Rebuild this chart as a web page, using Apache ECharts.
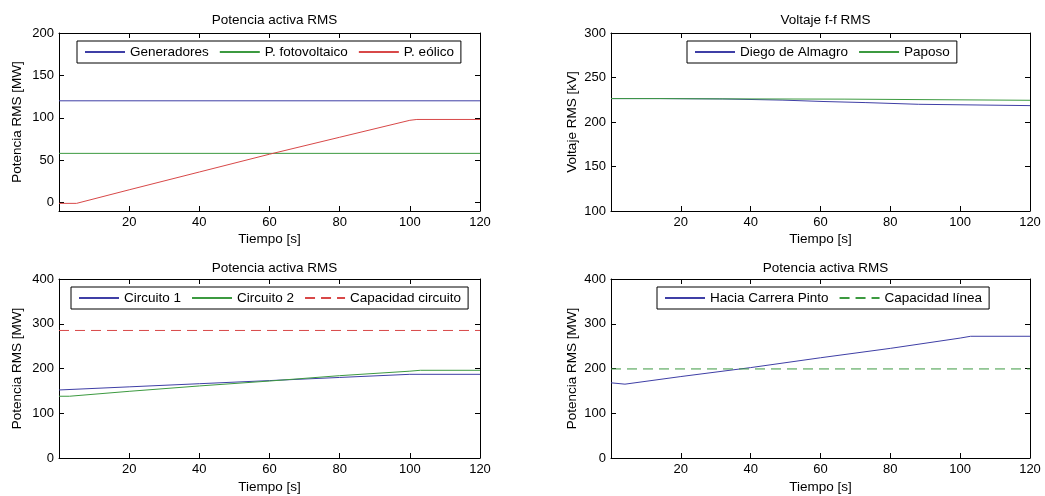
<!DOCTYPE html>
<html>
<head>
<meta charset="utf-8">
<title>Potencia activa RMS</title>
<script src="https://cdn.jsdelivr.net/npm/echarts@6/dist/echarts.min.js"></script>
<style>
  html, body { margin: 0; padding: 0; background: #fff; }
  #chart { width: 1045px; height: 496px; }
</style>
</head>
<body>
<div id="chart"></div>
<script>
// ticks del eje de tiempo
const tiempoTicks = [20, 40, 60, 80, 100, 120]

// Potencia activa RMS (generacion)
const tGen = [0, 120]
const pGen = [120, 120]
const tFoto = [0, 120]
const pFoto = [58, 58]
const tEolico = [0, 5, 20, 40, 60, 80, 100, 102, 120]
const pEolico = [-1, -1, 15, 36, 57, 77, 97, 98, 98]
const ticksGen = [0, 50, 100, 150, 200]

// Voltaje f-f RMS
const tDiego = [0, 14, 14, 32, 32, 49, 49, 61, 61, 73, 73, 88, 88, 120]
const vDiego = [226.3, 226.3, 225.9, 225.9, 224.6, 224.6, 223, 223, 221.8, 221.8, 219.9, 219.9, 218.4, 218.4]
const tPaposo = [0, 14, 14, 31, 31, 67, 67, 120]
const vPaposo = [226.3, 226.3, 226, 226, 225.7, 225.7, 224.4, 224.4]
const ticksVolt = [100, 150, 200, 250, 300]

// Potencia activa RMS (circuitos)
const tC1 = [0, 20, 40, 60, 80, 100, 120]
const pC1 = [152, 159, 166, 173, 180, 187, 187]
const tC2 = [0, 3, 20, 40, 60, 80, 100, 103, 120]
const pC2 = [138, 138, 149, 161, 172, 184, 194, 196, 196]
const tCapC = [0, 120]
const pCapC = [285, 285]

// Potencia activa RMS (hacia Carrera Pinto)
const tCP = [0, 4, 20, 40, 60, 80, 100, 103, 120]
const pCP = [168, 165, 182, 202, 224, 245, 268, 272, 272]
const tCapL = [0, 120]
const pCapL = [199, 199]
const ticksPot = [0, 100, 200, 300, 400]

const AZUL = '#3f3fa6'
const VERDE = '#3c9a40'
const ROJO = '#d84848'
const FONT = '"Liberation Sans", Arial, sans-serif'

function zip (t, v) {
  return t.map(function (x, i) { return [x, v[i]] })
}

// cada panel: grid, ejes, titulo, leyenda
const paneles = [
  { left: 59, top: 33, width: 421, height: 178, yMin: -10, yMax: 200, yTicks: ticksGen,
    title: 'Potencia activa RMS', yName: 'Potencia RMS [MW]', yGap: 35, xGap: 21, titleTop: 8,
    legendLeft: 77, legendTop: 41,
    series: [
      { name: 'Generadores', t: tGen, v: pGen, color: AZUL },
      { name: 'P. fotovoltaico', t: tFoto, v: pFoto, color: VERDE },
      { name: 'P. eólico', t: tEolico, v: pEolico, color: ROJO }
    ] },
  { left: 611, top: 33, width: 419, height: 178, yMin: 100, yMax: 300, yTicks: ticksVolt,
    title: 'Voltaje f-f RMS', yName: 'Voltaje RMS [kV]', yGap: 32, xGap: 21, titleTop: 8,
    legendLeft: 687, legendTop: 41,
    series: [
      { name: 'Diego de Almagro', t: tDiego, v: vDiego, color: AZUL },
      { name: 'Paposo', t: tPaposo, v: vPaposo, color: VERDE }
    ] },
  { left: 59, top: 279, width: 421, height: 179, yMin: 0, yMax: 400, yTicks: ticksPot,
    title: 'Potencia activa RMS', yName: 'Potencia RMS [MW]', yGap: 35, xGap: 22, titleTop: 256,
    legendLeft: 71, legendTop: 287,
    series: [
      { name: 'Circuito 1', t: tC1, v: pC1, color: AZUL },
      { name: 'Circuito 2', t: tC2, v: pC2, color: VERDE },
      { name: 'Capacidad circuito', t: tCapC, v: pCapC, color: ROJO, dash: true }
    ] },
  { left: 611, top: 279, width: 419, height: 179, yMin: 0, yMax: 400, yTicks: ticksPot,
    title: 'Potencia activa RMS', yName: 'Potencia RMS [MW]', yGap: 32, xGap: 22, titleTop: 256,
    legendLeft: 657, legendTop: 287,
    series: [
      { name: 'Hacia Carrera Pinto', t: tCP, v: pCP, color: AZUL },
      { name: 'Capacidad línea', t: tCapL, v: pCapL, color: VERDE, dash: true }
    ] }
]

const grid = []
const xAxis = []
const yAxis = []
const title = []
const legend = []
const series = []

const axisLine = { show: true, onZero: false, lineStyle: { color: '#000', width: 1 } }
const tickStyle = { color: '#000', width: 1 }

paneles.forEach(function (p, i) {
  grid.push({ left: p.left, top: p.top, width: p.width, height: p.height })
  // eje inferior con etiquetas
  xAxis.push({
    gridIndex: i, type: 'value', position: 'bottom', min: 0, max: 120,
    name: 'Tiempo [s]', nameLocation: 'middle', nameGap: p.xGap,
    nameTextStyle: { fontFamily: FONT, fontSize: 13.5, color: '#000' },
    axisLine: axisLine,
    axisTick: { inside: true, length: 5, lineStyle: tickStyle, customValues: tiempoTicks },
    axisLabel: { margin: 5, fontFamily: FONT, fontSize: 13, color: '#000', customValues: tiempoTicks },
    splitLine: { show: false }
  })
  // eje superior (solo ticks)
  xAxis.push({
    gridIndex: i, type: 'value', position: 'top', min: 0, max: 120,
    axisLine: axisLine,
    axisTick: { inside: true, length: 5, lineStyle: tickStyle, customValues: tiempoTicks },
    axisLabel: { show: false },
    splitLine: { show: false }
  })
  yAxis.push({
    gridIndex: i, type: 'value', position: 'left', min: p.yMin, max: p.yMax,
    name: p.yName, nameLocation: 'middle', nameGap: p.yGap,
    nameTextStyle: { fontFamily: FONT, fontSize: 13.5, color: '#000' },
    axisLine: axisLine,
    axisTick: { inside: true, length: 5, lineStyle: tickStyle, customValues: p.yTicks },
    axisLabel: { margin: 5, fontFamily: FONT, fontSize: 13, color: '#000', customValues: p.yTicks },
    splitLine: { show: false }
  })
  yAxis.push({
    gridIndex: i, type: 'value', position: 'right', min: p.yMin, max: p.yMax,
    axisLine: axisLine,
    axisTick: { inside: true, length: 5, lineStyle: tickStyle, customValues: p.yTicks },
    axisLabel: { show: false },
    splitLine: { show: false }
  })
  title.push({
    text: p.title,
    left: p.left + p.width / 2,
    top: p.titleTop,
    textAlign: 'center',
    textStyle: { fontFamily: FONT, fontSize: 13.5, fontWeight: 'normal', color: '#000' }
  })
  legend.push({
    data: p.series.map(function (s) { return s.name }),
    left: p.legendLeft,
    top: p.legendTop,
    orient: 'horizontal',
    selectedMode: false,
    backgroundColor: '#fff',
    borderColor: '#000',
    borderWidth: 1,
    borderRadius: 0,
    padding: [4, 7, 4, 7],
    itemGap: 10,
    itemWidth: 40,
    itemHeight: 14,
    // sin simbolo en la muestra, solo la linea
    itemStyle: { color: 'rgba(0,0,0,0)', borderColor: 'rgba(0,0,0,0)', borderWidth: 0, opacity: 0 },
    textStyle: { fontFamily: FONT, fontSize: 13.5, color: '#000' }
  })
  p.series.forEach(function (s) {
    series.push({
      name: s.name,
      type: 'line',
      xAxisIndex: 2 * i,
      yAxisIndex: 2 * i,
      symbol: 'none',
      data: zip(s.t, s.v),
      itemStyle: { color: s.color },
      lineStyle: { color: s.color, width: 1, type: s.dash ? [10, 6] : 'solid' }
    })
  })
})

const chart = echarts.init(document.getElementById('chart'))
chart.setOption({
  backgroundColor: '#fff',
  animation: false,
  title: title,
  legend: legend,
  grid: grid,
  xAxis: xAxis,
  yAxis: yAxis,
  series: series
})
</script>
</body>
</html>
